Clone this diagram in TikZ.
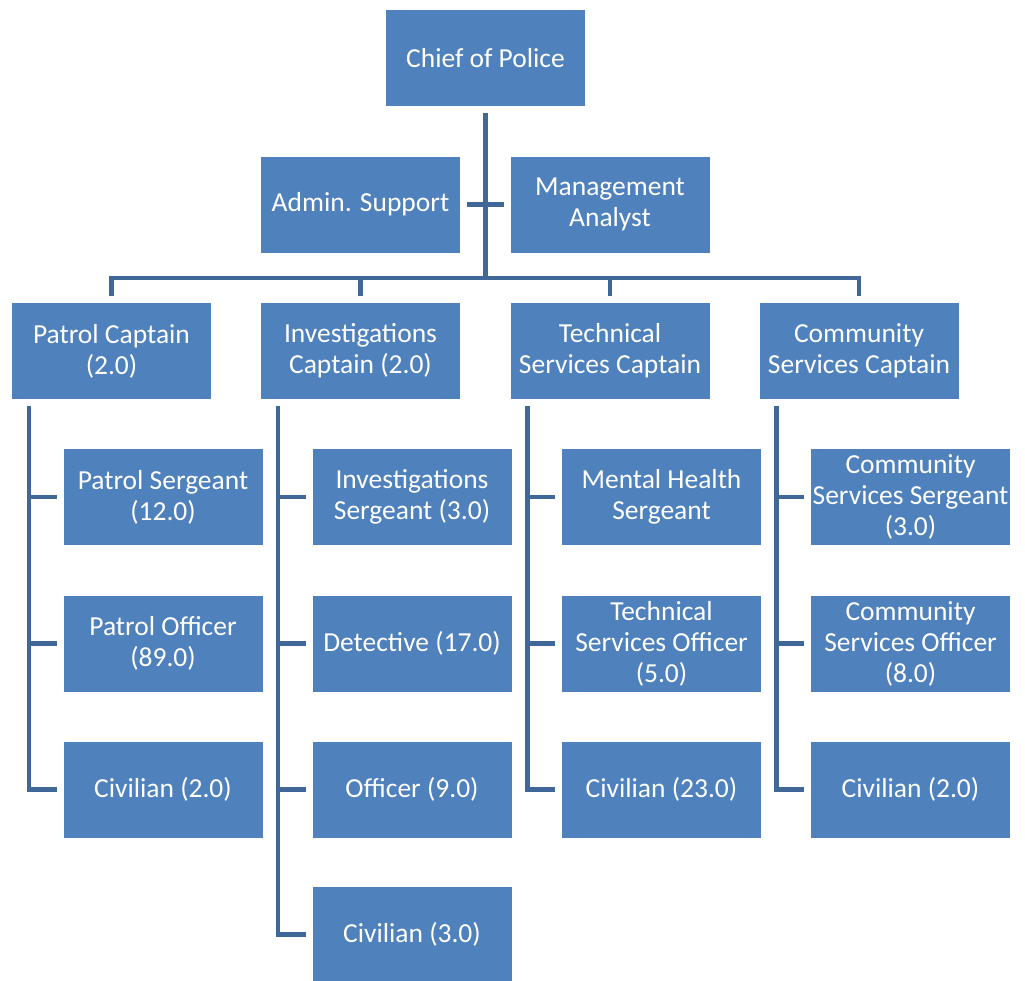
\documentclass[tikz,border=0pt]{standalone}
\usepackage{fontspec}
\setmainfont{Carlito}
\usetikzlibrary{calc}
\definecolor{boxblue}{HTML}{4F81BD}
\definecolor{linkblue}{HTML}{3F6898}
\begin{document}
\begin{tikzpicture}[x=1pt,y=-1pt,
  unit/.style={fill=boxblue,draw=white,line width=0.8pt,minimum width=200pt,minimum height=97pt,
    text=white,align=center,inner sep=0pt,font=\fontsize{27.5}{31}\selectfont},
  link/.style={draw=linkblue,line width=4.5pt}]
\useasboundingbox (0,0) rectangle (1025,981);

% top level
\node[unit] (chief) at (485.5,58) {Chief of Police};
\node[unit] (admin) at (360.5,204.5) {Admin. Support};
\node[unit] (mgmt) at (610,204.5) {Management\\Analyst};

% captains
\node[unit] (pc) at (111.5,351) {Patrol Captain\\(2.0)};
\node[unit] (ic) at (360.5,351) {Investigations\\Captain (2.0)};
\node[unit] (tc) at (610,351) {Technical\\Services Captain};
\node[unit] (cc) at (859,351) {Community\\Services Captain};

% patrol
\node[unit] (ps) at (163,497) {Patrol Sergeant\\(12.0)};
\node[unit] (po) at (163,643.5) {Patrol Officer\\(89.0)};
\node[unit] (pv) at (163,789.5) {Civilian (2.0)};

% investigations
\node[unit] (is) at (412,497) {Investigations\\Sergeant (3.0)};
\node[unit] (id) at (412,643.5) {Detective (17.0)};
\node[unit] (io) at (412,789.5) {Officer (9.0)};
\node[unit] (iv) at (412,934.5) {Civilian (3.0)};

% technical services
\node[unit] (ts) at (661.5,497) {Mental Health\\Sergeant};
\node[unit] (tf) at (661.5,643.5) {Technical\\Services Officer\\(5.0)};
\node[unit] (tv) at (661.5,789.5) {Civilian (23.0)};

% community services
\node[unit] (cs) at (910.5,497) {Community\\Services Sergeant\\(3.0)};
\node[unit] (co) at (910.5,643.5) {Community\\Services Officer\\(8.0)};
\node[unit] (cv) at (910.5,789.5) {Civilian (2.0)};

% trunk from the chief down to the captains' bus
\coordinate (bus) at ($(chief.south)+(0,171)$);
\draw[link] ($(chief.south)+(0,6)$) -- (bus);
\draw[link] ($(admin.east)+(6,0)$) -- ($(mgmt.west)+(-6,0)$);
\draw[link] ($(pc.north)+(0,-6)$) |- (bus) -| ($(cc.north)+(0,-6)$);
\draw[link] ($(ic.north)+(0,-6)$) -- (ic.north |- bus);
\draw[link] ($(tc.north)+(0,-6)$) -- (tc.north |- bus);

% column spines
\foreach \cap/\units in {pc/{ps,po,pv}, ic/{is,id,io,iv}, tc/{ts,tf,tv}, cc/{cs,co,cv}}{
  \foreach \u in \units {
    \draw[link] ($(\cap.south west)+(18,6)$) |- ($(\u.west)+(-6,0)$);
  }
}
\end{tikzpicture}
\end{document}
